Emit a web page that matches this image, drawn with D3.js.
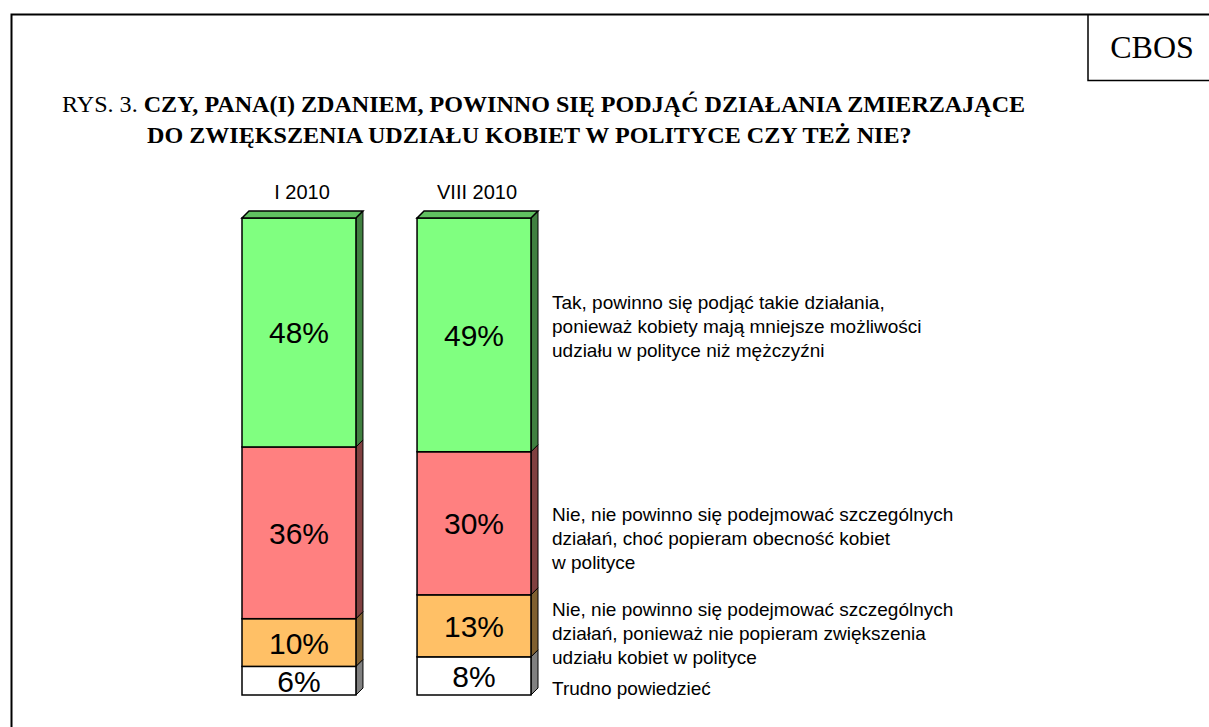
<!DOCTYPE html>
<html>
<head>
<meta charset="utf-8">
<script src="https://cdn.jsdelivr.net/npm/d3@7"></script>
<style>
  body { margin: 0; background: #fff; }
  svg { display: block; }
</style>
</head>
<body>
<svg id="chart"></svg>
<script>
// survey waves
var waves = ["I 2010", "VIII 2010"];

// answer shares (%), bottom -> top
var trudno = [6, 8];
var nieZwiekszenia = [10, 13];
var nieObecnosc = [36, 30];
var tak = [48, 49];

var answerLabels = [
  ["Trudno powiedzieć"],
  ["Nie, nie powinno się podejmować szczególnych", "działań, ponieważ nie popieram zwiększenia", "udziału kobiet w polityce"],
  ["Nie, nie powinno się podejmować szczególnych", "działań, choć popieram obecność kobiet", "w polityce"],
  ["Tak, powinno się podjąć takie działania,", "ponieważ kobiety mają mniejsze możliwości", "udziału w polityce niż mężczyźni"]
];

var series = [trudno, nieZwiekszenia, nieObecnosc, tak];
var front = ["#ffffff", "#ffc066", "#ff8080", "#80ff80"];
var side = ["#808080", "#806030", "#804040", "#408040"];
var topColor = "#60c060";

var svgWidth = 1209, svgHeight = 727;
var svg = d3.select("#chart").attr("width", svgWidth).attr("height", svgHeight);

var serif = "'Liberation Serif', 'Times New Roman', serif";
var sans = "'Liberation Sans', Arial, sans-serif";

// page frame + CBOS box
svg.append("path")
  .attr("d", "M11.5,727 V14.5 H1209")
  .attr("fill", "none").attr("stroke", "#000").attr("stroke-width", 2);
svg.append("path")
  .attr("d", "M1088,14.5 V80.5 H1209")
  .attr("fill", "none").attr("stroke", "#000").attr("stroke-width", 1.5);
svg.append("text")
  .attr("x", 1152).attr("y", 58)
  .attr("text-anchor", "middle")
  .style("font-family", serif)
  .style("font-size", "32px")
  .text("CBOS");

// title
var title = svg.append("g")
  .style("font-family", serif)
  .style("font-size", "24.1px");
var t1 = title.append("text").attr("x", 62).attr("y", 112);
t1.append("tspan").text("RYS. 3. ");
t1.append("tspan").style("font-weight", "bold")
  .text("CZY, PANA(I) ZDANIEM, POWINNO SIĘ PODJĄĆ DZIAŁANIA ZMIERZAJĄCE");
title.append("text").attr("x", 147).attr("y", 143).style("font-weight", "bold")
  .text("DO ZWIĘKSZENIA UDZIAŁU KOBIET W POLITYCE CZY TEŻ NIE?");

// scales
var x = d3.scaleBand().domain(waves).range([242, 531]).paddingInner(0.349).paddingOuter(0);
var y = d3.scaleLinear().domain([0, 100]).range([695, 218]);
var depth = 7;

var stack = waves.map(function(w, i) {
  var acc = 0;
  return series.map(function(s, k) {
    var d = { wave: w, k: k, v: s[i], y0: acc, y1: acc + s[i] };
    acc += s[i];
    return d;
  });
});

var bars = svg.append("g").selectAll("g").data(stack).join("g");

bars.each(function(segs) {
  var g = d3.select(this);
  var x0 = x(segs[0].wave), x1 = x0 + x.bandwidth();
  segs.forEach(function(d) {
    var yt = y(d.y1), yb = y(d.y0);
    // side face
    g.append("path")
      .attr("d", "M" + x1 + "," + yb + " L" + (x1 + depth) + "," + (yb - depth) +
        " L" + (x1 + depth) + "," + (yt - depth) + " L" + x1 + "," + yt + "Z")
      .attr("fill", side[d.k]).attr("stroke", "#000").attr("stroke-width", 1);
    // front face
    g.append("rect")
      .attr("x", x0).attr("y", yt)
      .attr("width", x.bandwidth()).attr("height", yb - yt)
      .attr("fill", front[d.k]).attr("stroke", "#000").attr("stroke-width", 1.5);
    g.append("text")
      .attr("x", x0 + x.bandwidth() / 2).attr("y", (yt + yb) / 2 + 11)
      .attr("text-anchor", "middle")
      .style("font-family", sans)
      .style("font-size", "30px")
      .text(d.v + "%");
  });
  // top face
  var topY = y(100);
  g.append("path")
    .attr("d", "M" + x0 + "," + topY + " L" + (x0 + depth) + "," + (topY - depth) +
      " L" + (x1 + depth) + "," + (topY - depth) + " L" + x1 + "," + topY + "Z")
    .attr("fill", topColor).attr("stroke", "#000").attr("stroke-width", 1.5);
});

// wave labels
svg.append("g").selectAll("text").data(waves).join("text")
  .attr("x", function(d) { return x(d) + x.bandwidth() / 2 + 3; })
  .attr("y", 199)
  .attr("text-anchor", "middle")
  .style("font-family", sans)
  .style("font-size", "20px")
  .text(function(d) { return d; });

// legend: first baselines of each answer block
var legendY = [695, 616, 521, 309];
var legend = svg.append("g")
  .style("font-family", sans)
  .style("font-size", "19px");
answerLabels.forEach(function(lines, k) {
  var t = legend.append("text").attr("x", 552).attr("y", legendY[k]);
  lines.forEach(function(l, j) {
    t.append("tspan").attr("x", 552).attr("dy", j ? 24 : 0).text(l);
  });
});
</script>
</body>
</html>
